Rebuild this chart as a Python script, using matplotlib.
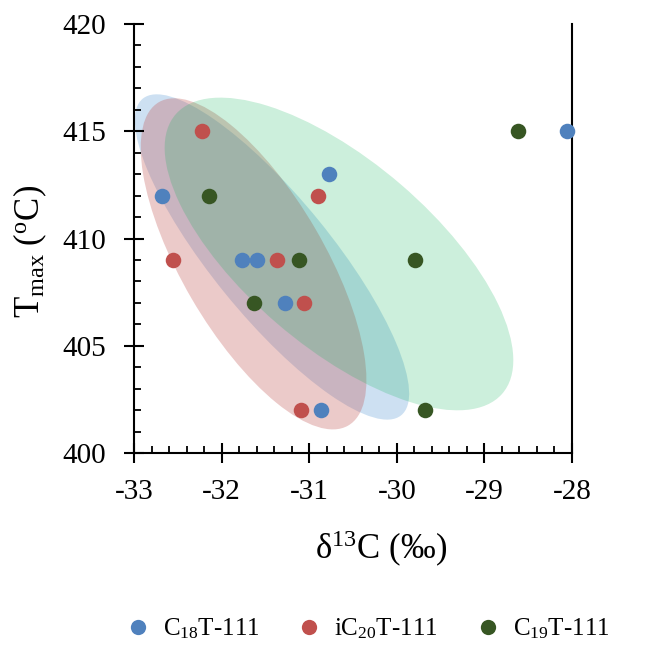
import matplotlib
matplotlib.use("Agg")
import matplotlib.pyplot as plt
from matplotlib.patches import Ellipse
from matplotlib.ticker import MultipleLocator
from matplotlib.lines import Line2D

plt.rcParams['font.family'] = ['Liberation Serif', 'DejaVu Serif']
plt.rcParams['mathtext.fontset'] = 'custom'
plt.rcParams['mathtext.rm'] = 'Liberation Serif'
plt.rcParams['mathtext.it'] = 'Liberation Serif:italic'
plt.rcParams['axes.unicode_minus'] = False

# data
c18_x = [-32.68, -31.77, -31.60, -31.28, -30.77, -30.86, -28.06]
c18_y = [412, 409, 409, 407, 413, 402, 415]
ic20_x = [-32.22, -32.55, -31.37, -31.06, -30.90, -31.09]
ic20_y = [415, 409, 409, 407, 412, 402]
c19_x = [-32.14, -31.63, -31.12, -29.79, -29.68, -28.62]
c19_y = [412, 407, 409, 409, 402, 415]

labels = ["C$_{18}$T-111", "iC$_{20}$T-111", "C$_{19}$T-111"]
dot_colors = ["#4F81BD", "#C0504D", "#375623"]

# shaded ellipses (axes fraction): center, width, height, angle
ell_fill = ["#5B9BD5", "#C0504D", "#00B050"]
ell_alpha = [0.3, 0.3, 0.2]
ell_center = [(0.315, 0.457), (0.273, 0.441), (0.468, 0.464)]
ell_size = [(0.945, 0.273), (0.869, 0.326), (0.99, 0.43)]
ell_angle = [-51.45, -60.3, -41.3]

fig = plt.figure(figsize=(6.48, 6.48), dpi=100)
ax = fig.add_axes([0.2068, 0.3009, 0.6759, 0.6620])

for c, a, cen, sz, ang in zip(ell_fill, ell_alpha, ell_center, ell_size, ell_angle):
    ax.add_patch(Ellipse(cen, sz[0], sz[1], angle=ang, transform=ax.transAxes,
                         facecolor=c, alpha=a, edgecolor='none', zorder=1))

for xs, ys, c in zip([c18_x, ic20_x, c19_x], [c18_y, ic20_y, c19_y], dot_colors):
    ax.scatter(xs, ys, s=125, color=c, zorder=3, clip_on=False, linewidths=0)

ax.set_xlim(-33, -28)
ax.set_ylim(400, 420)
ax.xaxis.set_major_locator(MultipleLocator(1))
ax.xaxis.set_minor_locator(MultipleLocator(0.2))
ax.yaxis.set_major_locator(MultipleLocator(5))
ax.yaxis.set_minor_locator(MultipleLocator(1))

ax.spines['top'].set_visible(False)
for s in ['left', 'bottom', 'right']:
    ax.spines[s].set_linewidth(1.5)
ax.tick_params(which='major', direction='inout', length=14, width=1.5,
               labelsize=21)
ax.tick_params(axis='x', which='major', pad=12)
ax.tick_params(axis='y', which='major', pad=13)
ax.tick_params(which='minor', direction='in', length=5, width=1.3)
ax.tick_params(axis='y', right=False)

ax.set_xlabel("δ$^{13}$C (‰)", fontsize=25)
ax.xaxis.set_label_coords(0.565, -0.178)
ax.set_ylabel("T$_{\\mathrm{max}}$ ($^{\\mathrm{o}}$C)", fontsize=25)
ax.yaxis.set_label_coords(-0.195, 0.47)

handles = [Line2D([0], [0], marker='o', linestyle='none', markersize=11,
                  markerfacecolor=c, markeredgewidth=0) for c in dot_colors]
fig.legend(handles, labels, loc='center', bbox_to_anchor=(0.565, 0.03),
           ncol=3, frameon=False, fontsize=18, handletextpad=0.4,
           columnspacing=1.4, handlelength=1.2)

fig.savefig("out.png", dpi=100)
